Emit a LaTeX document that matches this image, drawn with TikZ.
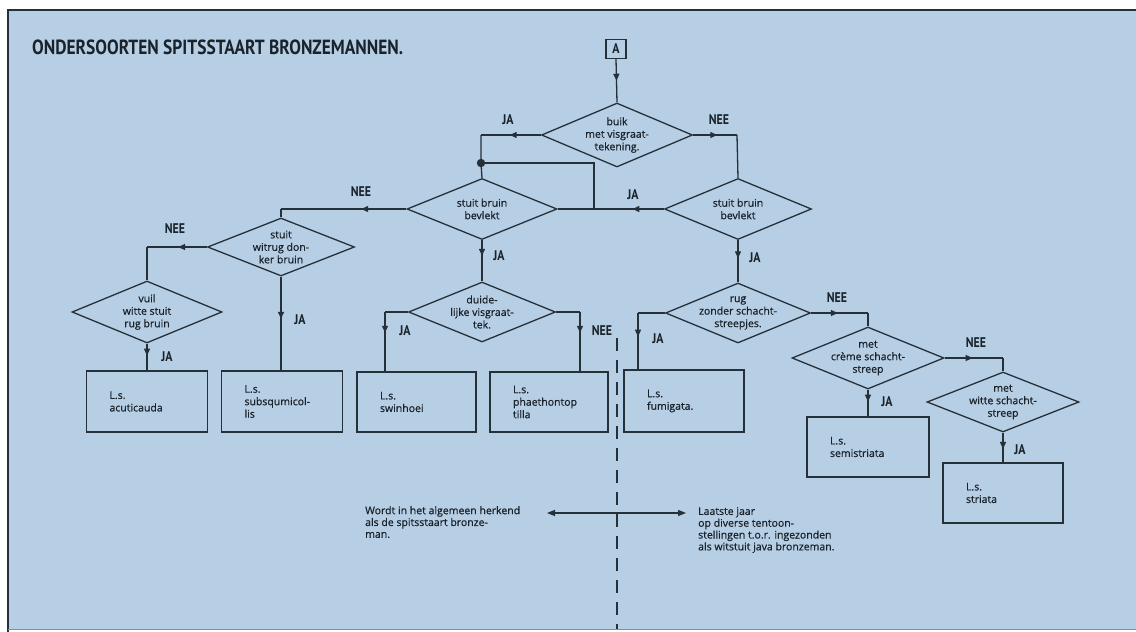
\documentclass[tikz,border=0pt]{standalone}
\usepackage{fontspec}
\setmainfont{Open Sans}
\newfontfamily\dtfont[FakeBold=0.7]{Open Sans}
\newfontfamily\hdfont[FakeStretch=0.85]{PT Sans}
\usetikzlibrary{shapes.geometric,arrows.meta,decorations.markings}
\definecolor{bg}{RGB}{183,207,229}
\definecolor{ink}{RGB}{38,48,56}
\definecolor{txt}{RGB}{26,34,42}
\newcommand{\dfsz}{\dtfont\fontsize{10.5}{12.5}\selectfont}
\tikzset{
  conn/.style={draw=ink, color=ink, line width=1.3pt},
  marr/.style={postaction={decorate,decoration={markings,mark=at position #1 with {\arrow{Triangle[width=6pt,length=7pt]}}}}},
  marr/.default=0.5,
  dia/.style={shape=diamond, draw=ink, line width=1.3pt, inner sep=0pt},
  dtext/.style={align=center, font=\dfsz, text=txt, inner sep=0pt},
  box/.style={draw=ink, line width=1.3pt, inner xsep=23pt, inner ysep=0pt, align=left, font=\dfsz, text=txt},
  lbl/.style={font=\hdfont\bfseries\fontsize{14}{15}\selectfont, text=txt, inner sep=0pt},
  note/.style={align=left, font=\dtfont\fontsize{10.5}{11.8}\selectfont, text=txt, inner sep=0pt, anchor=north west},
}
\begin{document}
\begin{tikzpicture}[x=1pt,y=-1pt]
\useasboundingbox (0,0) rectangle (1136,632);
\fill[white] (0,0) rectangle (1136,632);
\fill[bg] (8,10) rectangle (1136,629);
\draw[ink, line width=2pt] (7,9.5) -- (1136,9.5);
\draw[ink, line width=2.5pt] (8,9.5) -- (8,632);
\draw[black!45, line width=1.5pt] (8,629.5) -- (1136,629.5);

% title and start
\node[anchor=west, font=\hdfont\bfseries\fontsize{20.5}{24}\selectfont, text=txt, inner sep=0pt] (title) at (32,47) {ONDERSOORTEN SPITSSTAART BRONZEMANNEN.};
\node[draw=ink, line width=1.3pt, minimum width=20pt, minimum height=19pt, inner sep=0pt, font=\hdfont\bfseries\fontsize{14}{16}\selectfont, text=txt] (a) at (616,49) {A};

% diamonds
\node[dia, minimum width=151pt, minimum height=64pt] (d1) at (617,135) {};
\node[dtext] (t1) at (d1.center) {buik\\met visgraat-\\tekening.};
\node[dia, minimum width=150pt, minimum height=61pt] (d2) at (482,209) {};
\node[dtext] (t2) at (d2.center) {stuit bruin\\bevlekt};
\node[dia, minimum width=147pt, minimum height=61pt] (d3) at (738,209) {};
\node[dtext] (t3) at (d3.center) {stuit bruin\\bevlekt};
\node[dia, minimum width=147pt, minimum height=58pt] (d4) at (281,247) {};
\node[dtext] (t4) at (d4.center) {stuit\\witrug don-\\ker bruin};
\node[dia, minimum width=150pt, minimum height=62pt] (d5) at (147,312) {};
\node[dtext] (t5) at (d5.center) {vuil\\witte stuit\\rug bruin};
\node[dia, minimum width=147pt, minimum height=60pt] (d6) at (482,312) {};
\node[dtext] (t6) at (d6.center) {duide-\\lijke visgraat-\\tek.};
\node[dia, minimum width=145pt, minimum height=60pt] (d7) at (738,313) {};
\node[dtext] (t7) at (d7.center) {rug\\zonder schacht-\\streepjes.};
\node[dia, minimum width=152pt, minimum height=62pt] (d8) at (868,358) {};
\node[dtext] (t8) at (d8.center) {met\\crème schacht-\\streep};
\node[dia, minimum width=152pt, minimum height=60pt] (d9) at (1003,402) {};
\node[dtext] (t9) at (d9.center) {met\\witte schacht-\\streep};

% boxes
\node[box, text width=75pt, minimum height=61pt] (b1) at (147,401.5) {L.s.\\acuticauda};
\node[box, text width=75pt, minimum height=61pt] (b2) at (282,401.5) {L.s.\\subsqumicol-\\lis};
\node[box, text width=73pt, minimum height=60pt] (b3) at (416.5,402) {L.s.\\swinhoei};
\node[box, text width=72pt, minimum height=60pt] (b4) at (549,402) {L.s.\\phaethontop\\tilla};
\node[box, text width=74pt, minimum height=62pt] (b5) at (684,401) {L.s.\\fumigata.};
\node[box, text width=76pt, minimum height=60pt] (b6) at (868,447) {L.s.\\semistriata};
\node[box, text width=74pt, minimum height=60pt] (b7) at (1003,493) {L.s.\\striata};

% corners
\coordinate (c1) at (481,135);
\coordinate (dot) at (481,163);
\coordinate (c2) at (737,135);
\coordinate (c3) at (594,209);
\coordinate (c3t) at (594,163);
\coordinate (c4) at (281,209);
\coordinate (c5) at (147,247);
\coordinate (c6) at (385,312);
\coordinate (c7) at (580,312);
\coordinate (c8) at (638,313);
\coordinate (c9) at (868,313);
\coordinate (c10) at (1003,358);

% connectors
\draw[conn, marr=0.5] (a.south) -- (d1.north);
\draw[conn, marr=0.52] (d1.west) -- (c1);
\draw[conn] (c1) -- (dot) -- (d2.north);
\fill[ink] (dot) circle (4.2pt);
\draw[conn, marr=0.55] (d1.east) -- (c2);
\draw[conn] (c2) -- (d3.north);
\draw[conn, marr=0.45] (d3.west) -- (c3);
\draw[conn] (d2.east) -- (c3) -- (c3t) -- (dot);
\draw[conn, marr=0.36] (d2.west) -- (c4);
\draw[conn] (c4) -- (d4.north);
\draw[conn, marr=0.48] (d4.west) -- (c5);
\draw[conn] (c5) -- (d5.north);
\draw[conn, marr=0.45] (d5.south) -- (b1.north);
\draw[conn, marr=0.45] (d4.south) -- (d4.south |- b2.north);
\draw[conn, marr=0.38] (d2.south) -- (d6.north);
\draw[conn] (d6.west) -- (c6);
\draw[conn, marr=0.35] (c6) -- (c6 |- b3.north);
\draw[conn] (d6.east) -- (c7);
\draw[conn, marr=0.35] (c7) -- (c7 |- b4.north);
\draw[conn, marr=0.43] (d3.south) -- (d7.north);
\draw[conn] (d7.west) -- (c8);
\draw[conn, marr=0.42] (c8) -- (c8 |- b5.north);
\draw[conn, marr=0.47] (d7.east) -- (c9);
\draw[conn] (c9) -- (d8.north);
\draw[conn, marr=0.45] (d8.south) -- (b6.north);
\draw[conn, marr=0.48] (d8.east) -- (c10);
\draw[conn] (c10) -- (d9.north);
\draw[conn, marr=0.55] (d9.south) -- (b7.north);

% labels
\node[lbl] (l1) at (508,120) {JA};
\node[lbl] (l2) at (719,120) {NEE};
\node[lbl] (l3) at (633,195) {JA};
\node[lbl] (l4) at (361,192) {NEE};
\node[lbl] (l5) at (175,229) {NEE};
\node[lbl] (l6) at (167,357) {JA};
\node[lbl] (l7) at (300,320) {JA};
\node[lbl] (l8) at (499,256) {JA};
\node[lbl] (l9) at (405,331) {JA};
\node[lbl] (l10) at (602,331) {NEE};
\node[lbl] (l11) at (755,258) {JA};
\node[lbl] (l12) at (658,339) {JA};
\node[lbl] (l13) at (837,298) {NEE};
\node[lbl] (l14) at (887,402) {JA};
\node[lbl] (l15) at (976,343) {NEE};
\node[lbl] (l16) at (1020,450) {JA};

% dashed divider
\coordinate (dtop) at (617,338);
\coordinate (dbot) at (617,629);
\draw[ink, line width=1.4pt, dash pattern=on 13pt off 9pt] (dtop) -- (dbot);

% bottom notes
\node[note] (nl) at (365,506) {Wordt in het algemeen herkend\\als de spitsstaart bronze-\\man.};
\node[note] (nr) at (698,507) {Laatste jaar\\op diverse tentoon-\\stellingen t.o.r. ingezonden\\als witstuit java bronzeman.};
\coordinate (al) at (547,513);
\coordinate (ar) at (686,513);
\draw[conn, {Triangle[width=6pt,length=8pt]}-{Triangle[width=6pt,length=8pt]}] (al) -- (ar);
\end{tikzpicture}
\end{document}
